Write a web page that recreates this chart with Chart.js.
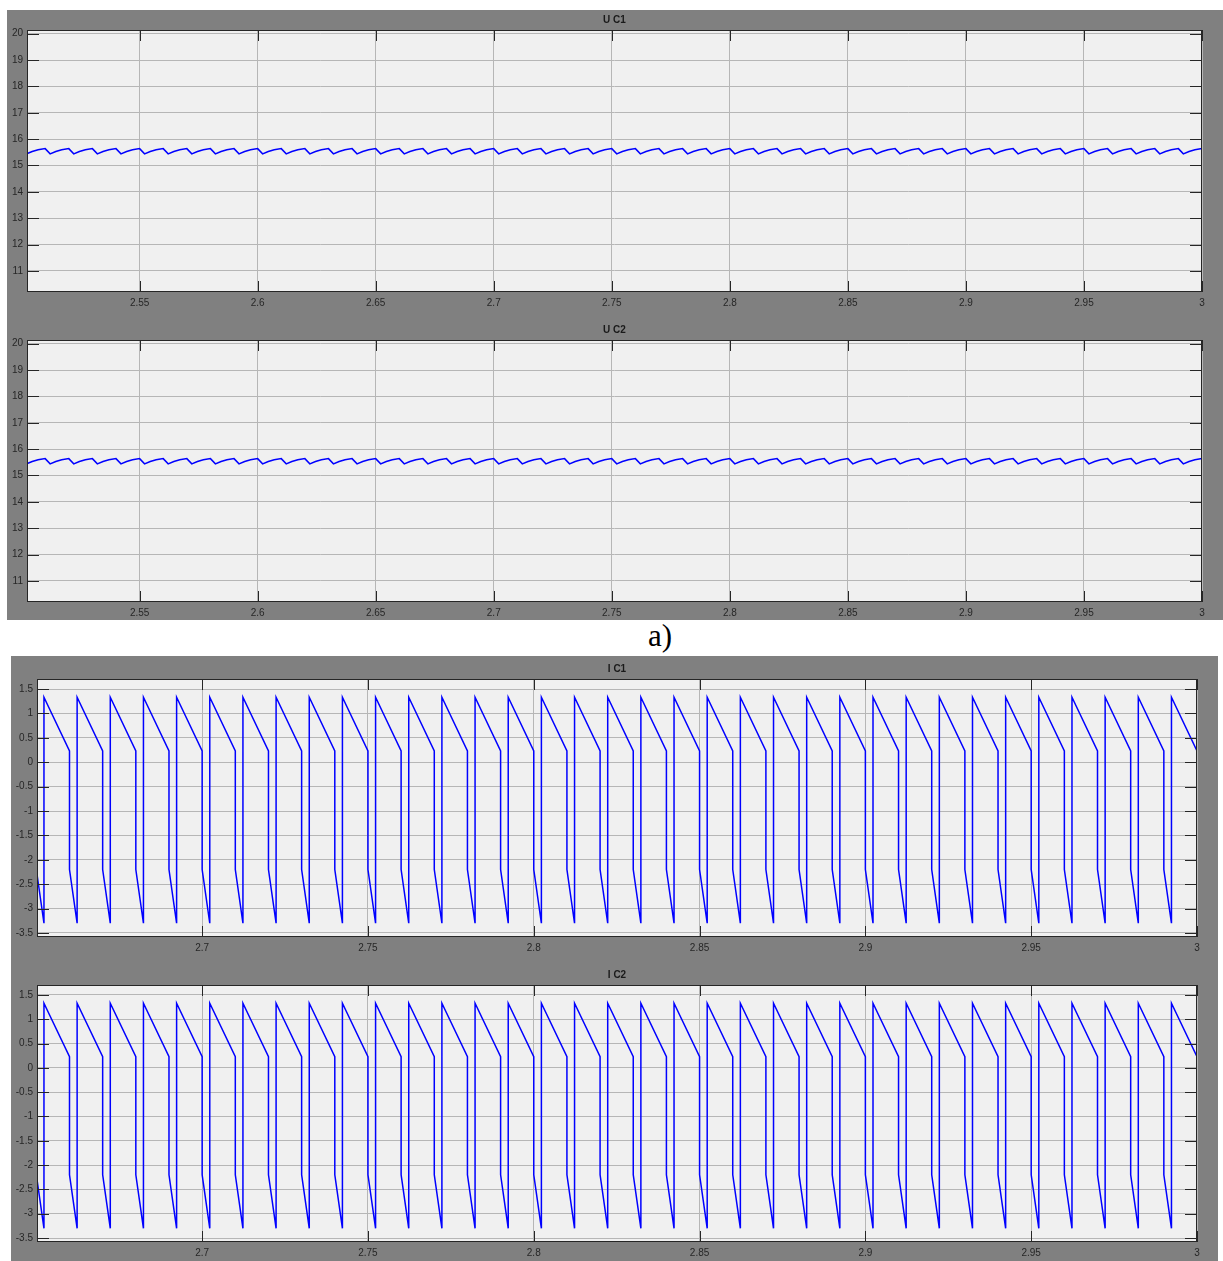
<!DOCTYPE html>
<html>
<head>
<meta charset="utf-8">
<title>U C / I C</title>
<script src="https://cdn.jsdelivr.net/npm/chart.js@4.4.0/dist/chart.umd.min.js"></script>
<style>
  html, body { margin: 0; padding: 0; background: #ffffff; }
  body { position: relative; width: 1223px; height: 1261px; overflow: hidden; }
  .fig { position: absolute; background: #808080; }
  canvas { position: absolute; }
  #capA {
    position: absolute; left: 600px; width: 120px; top: 620px;
    text-align: center; font-family: "Liberation Serif", "Times New Roman", serif;
    font-size: 31px; line-height: 31px; color: #000;
  }
</style>
</head>
<body>
<div class="fig" style="left:7px;top:10px;width:1216px;height:610px;"></div>
<div class="fig" style="left:11px;top:656px;width:1207px;height:605px;"></div>
<div id="capA">a)</div>

<script>
// ---- capacitor voltages (V) over 2.5 ... 3 s ----
const ucTime = [
  2.500, 2.5021, 2.5045, 2.507,   2.510, 2.5121, 2.5145, 2.517,
  2.520, 2.5221, 2.5245, 2.527,   2.530, 2.5321, 2.5345, 2.537,
  2.540, 2.5421, 2.5445, 2.547,   2.550, 2.5521, 2.5545, 2.557,
  2.560, 2.5621, 2.5645, 2.567,   2.570, 2.5721, 2.5745, 2.577,
  2.580, 2.5821, 2.5845, 2.587,   2.590, 2.5921, 2.5945, 2.597,
  2.600, 2.6021, 2.6045, 2.607,   2.610, 2.6121, 2.6145, 2.617,
  2.620, 2.6221, 2.6245, 2.627,   2.630, 2.6321, 2.6345, 2.637,
  2.640, 2.6421, 2.6445, 2.647,   2.650, 2.6521, 2.6545, 2.657,
  2.660, 2.6621, 2.6645, 2.667,   2.670, 2.6721, 2.6745, 2.677,
  2.680, 2.6821, 2.6845, 2.687,   2.690, 2.6921, 2.6945, 2.697,
  2.700, 2.7021, 2.7045, 2.707,   2.710, 2.7121, 2.7145, 2.717,
  2.720, 2.7221, 2.7245, 2.727,   2.730, 2.7321, 2.7345, 2.737,
  2.740, 2.7421, 2.7445, 2.747,   2.750, 2.7521, 2.7545, 2.757,
  2.760, 2.7621, 2.7645, 2.767,   2.770, 2.7721, 2.7745, 2.777,
  2.780, 2.7821, 2.7845, 2.787,   2.790, 2.7921, 2.7945, 2.797,
  2.800, 2.8021, 2.8045, 2.807,   2.810, 2.8121, 2.8145, 2.817,
  2.820, 2.8221, 2.8245, 2.827,   2.830, 2.8321, 2.8345, 2.837,
  2.840, 2.8421, 2.8445, 2.847,   2.850, 2.8521, 2.8545, 2.857,
  2.860, 2.8621, 2.8645, 2.867,   2.870, 2.8721, 2.8745, 2.877,
  2.880, 2.8821, 2.8845, 2.887,   2.890, 2.8921, 2.8945, 2.897,
  2.900, 2.9021, 2.9045, 2.907,   2.910, 2.9121, 2.9145, 2.917,
  2.920, 2.9221, 2.9245, 2.927,   2.930, 2.9321, 2.9345, 2.937,
  2.940, 2.9421, 2.9445, 2.947,   2.950, 2.9521, 2.9545, 2.957,
  2.960, 2.9621, 2.9645, 2.967,   2.970, 2.9721, 2.9745, 2.977,
  2.980, 2.9821, 2.9845, 2.987,   2.990, 2.9921, 2.9945, 2.997,
  3.000
];
const uC1 = [
  15.64, 15.44, 15.53, 15.60,  15.64, 15.44, 15.53, 15.60,  15.64, 15.44, 15.53, 15.60,  15.64, 15.44, 15.53, 15.60,  15.64, 15.44, 15.53, 15.60,
  15.64, 15.44, 15.53, 15.60,  15.64, 15.44, 15.53, 15.60,  15.64, 15.44, 15.53, 15.60,  15.64, 15.44, 15.53, 15.60,  15.64, 15.44, 15.53, 15.60,
  15.64, 15.44, 15.53, 15.60,  15.64, 15.44, 15.53, 15.60,  15.64, 15.44, 15.53, 15.60,  15.64, 15.44, 15.53, 15.60,  15.64, 15.44, 15.53, 15.60,
  15.64, 15.44, 15.53, 15.60,  15.64, 15.44, 15.53, 15.60,  15.64, 15.44, 15.53, 15.60,  15.64, 15.44, 15.53, 15.60,  15.64, 15.44, 15.53, 15.60,
  15.64, 15.44, 15.53, 15.60,  15.64, 15.44, 15.53, 15.60,  15.64, 15.44, 15.53, 15.60,  15.64, 15.44, 15.53, 15.60,  15.64, 15.44, 15.53, 15.60,
  15.64, 15.44, 15.53, 15.60,  15.64, 15.44, 15.53, 15.60,  15.64, 15.44, 15.53, 15.60,  15.64, 15.44, 15.53, 15.60,  15.64, 15.44, 15.53, 15.60,
  15.64, 15.44, 15.53, 15.60,  15.64, 15.44, 15.53, 15.60,  15.64, 15.44, 15.53, 15.60,  15.64, 15.44, 15.53, 15.60,  15.64, 15.44, 15.53, 15.60,
  15.64, 15.44, 15.53, 15.60,  15.64, 15.44, 15.53, 15.60,  15.64, 15.44, 15.53, 15.60,  15.64, 15.44, 15.53, 15.60,  15.64, 15.44, 15.53, 15.60,
  15.64, 15.44, 15.53, 15.60,  15.64, 15.44, 15.53, 15.60,  15.64, 15.44, 15.53, 15.60,  15.64, 15.44, 15.53, 15.60,  15.64, 15.44, 15.53, 15.60,
  15.64, 15.44, 15.53, 15.60,  15.64, 15.44, 15.53, 15.60,  15.64, 15.44, 15.53, 15.60,  15.64, 15.44, 15.53, 15.60,  15.64, 15.44, 15.53, 15.60,
  15.64
];
// both capacitors sit at the same voltage
const uC2 = uC1;

// ---- capacitor currents (A) over 2.65 ... 3 s ----
const icTime = [
  2.65, 2.65, 2.6523, 2.6523,  2.66, 2.66, 2.6623, 2.6623,  2.67, 2.67, 2.6723, 2.6723,
  2.68, 2.68, 2.6823, 2.6823,  2.69, 2.69, 2.6923, 2.6923,  2.70, 2.70, 2.7023, 2.7023,
  2.71, 2.71, 2.7123, 2.7123,  2.72, 2.72, 2.7223, 2.7223,  2.73, 2.73, 2.7323, 2.7323,
  2.74, 2.74, 2.7423, 2.7423,  2.75, 2.75, 2.7523, 2.7523,  2.76, 2.76, 2.7623, 2.7623,
  2.77, 2.77, 2.7723, 2.7723,  2.78, 2.78, 2.7823, 2.7823,  2.79, 2.79, 2.7923, 2.7923,
  2.80, 2.80, 2.8023, 2.8023,  2.81, 2.81, 2.8123, 2.8123,  2.82, 2.82, 2.8223, 2.8223,
  2.83, 2.83, 2.8323, 2.8323,  2.84, 2.84, 2.8423, 2.8423,  2.85, 2.85, 2.8523, 2.8523,
  2.86, 2.86, 2.8623, 2.8623,  2.87, 2.87, 2.8723, 2.8723,  2.88, 2.88, 2.8823, 2.8823,
  2.89, 2.89, 2.8923, 2.8923,  2.90, 2.90, 2.9023, 2.9023,  2.91, 2.91, 2.9123, 2.9123,
  2.92, 2.92, 2.9223, 2.9223,  2.93, 2.93, 2.9323, 2.9323,  2.94, 2.94, 2.9423, 2.9423,
  2.95, 2.95, 2.9523, 2.9523,  2.96, 2.96, 2.9623, 2.9623,  2.97, 2.97, 2.9723, 2.9723,
  2.98, 2.98, 2.9823, 2.9823,  2.99, 2.99, 2.9923, 2.9923,
  3.00
];
const iC1 = [
  0.23, -2.2, -3.3, 1.33,  0.23, -2.2, -3.3, 1.33,  0.23, -2.2, -3.3, 1.33,
  0.23, -2.2, -3.3, 1.33,  0.23, -2.2, -3.3, 1.33,  0.23, -2.2, -3.3, 1.33,
  0.23, -2.2, -3.3, 1.33,  0.23, -2.2, -3.3, 1.33,  0.23, -2.2, -3.3, 1.33,
  0.23, -2.2, -3.3, 1.33,  0.23, -2.2, -3.3, 1.33,  0.23, -2.2, -3.3, 1.33,
  0.23, -2.2, -3.3, 1.33,  0.23, -2.2, -3.3, 1.33,  0.23, -2.2, -3.3, 1.33,
  0.23, -2.2, -3.3, 1.33,  0.23, -2.2, -3.3, 1.33,  0.23, -2.2, -3.3, 1.33,
  0.23, -2.2, -3.3, 1.33,  0.23, -2.2, -3.3, 1.33,  0.23, -2.2, -3.3, 1.33,
  0.23, -2.2, -3.3, 1.33,  0.23, -2.2, -3.3, 1.33,  0.23, -2.2, -3.3, 1.33,
  0.23, -2.2, -3.3, 1.33,  0.23, -2.2, -3.3, 1.33,  0.23, -2.2, -3.3, 1.33,
  0.23, -2.2, -3.3, 1.33,  0.23, -2.2, -3.3, 1.33,  0.23, -2.2, -3.3, 1.33,
  0.23, -2.2, -3.3, 1.33,  0.23, -2.2, -3.3, 1.33,  0.23, -2.2, -3.3, 1.33,
  0.23, -2.2, -3.3, 1.33,  0.23, -2.2, -3.3, 1.33,
  0.23
];
// both capacitors carry the same current
const iC2 = iC1;

// ---- axis ticks ----
const uXTicks  = [2.55, 2.6, 2.65, 2.7, 2.75, 2.8, 2.85, 2.9, 2.95, 3];
const uXLabels = ['2.55', '2.6', '2.65', '2.7', '2.75', '2.8', '2.85', '2.9', '2.95', '3'];
const uYTicks  = [11, 12, 13, 14, 15, 16, 17, 18, 19, 20];
const uYLabels = ['11', '12', '13', '14', '15', '16', '17', '18', '19', '20'];
const uXRange  = [2.5023, 3];
const uYRange  = [10.2, 20.14];

const iXTicks  = [2.7, 2.75, 2.8, 2.85, 2.9, 2.95, 3];
const iXLabels = ['2.7', '2.75', '2.8', '2.85', '2.9', '2.95', '3'];
const iYTicks  = [-3.5, -3, -2.5, -2, -1.5, -1, -0.5, 0, 0.5, 1, 1.5];
const iYLabels = ['-3.5', '-3', '-2.5', '-2', '-1.5', '-1', '-0.5', '0', '0.5', '1', '1.5'];
const iXRange  = [2.6502, 3];
const iYRange  = [-3.582, 1.705];

// ---- styling ----
const FONT = '"Liberation Sans", Arial, Helvetica, sans-serif';
const INK = '#262626';
const GRID = '#b6b6b6';
const AXES_BG = '#f0f0f0';
const TRACE = '#0000ff';

// axes box, inward tick marks and the title above each axes
const scopeFrame = {
  id: 'scopeFrame',
  beforeDraw(chart) {
    const { ctx, chartArea: a } = chart;
    ctx.save();
    ctx.fillStyle = AXES_BG;
    ctx.fillRect(a.left, a.top, a.right - a.left, a.bottom - a.top);
    ctx.restore();
  },
  afterDraw(chart, args, opts) {
    const { ctx, chartArea: a } = chart;
    const sx = chart.scales.x, sy = chart.scales.y;
    ctx.save();
    ctx.strokeStyle = INK;
    ctx.lineWidth = 1;
    ctx.beginPath();
    sx.ticks.forEach(t => {
      const px = Math.round(sx.getPixelForValue(t.value)) + 0.5;
      ctx.moveTo(px, a.bottom); ctx.lineTo(px, a.bottom - 11);
      ctx.moveTo(px, a.top);    ctx.lineTo(px, a.top + 11);
    });
    sy.ticks.forEach(t => {
      const py = Math.round(sy.getPixelForValue(t.value)) + 0.5;
      ctx.moveTo(a.left, py);  ctx.lineTo(a.left + 12, py);
      ctx.moveTo(a.right, py); ctx.lineTo(a.right - 12, py);
    });
    ctx.stroke();
    ctx.strokeRect(a.left + 0.5, a.top + 0.5, a.right - a.left - 1, a.bottom - a.top - 1);
    ctx.fillStyle = '#1a1a1a';
    ctx.font = 'bold 10px ' + FONT;
    ctx.textAlign = 'center';
    ctx.textBaseline = 'middle';
    ctx.fillText(opts.title, (a.left + a.right) / 2, a.top - 10);
    ctx.restore();
  }
};

function makePanel(p) {
  const cv = document.createElement('canvas');
  cv.width = p.box[2];
  cv.height = p.box[3];
  cv.style.left = p.box[0] + 'px';
  cv.style.top = p.box[1] + 'px';
  cv.style.width = p.box[2] + 'px';
  cv.style.height = p.box[3] + 'px';
  document.body.appendChild(cv);

  const tickFont = { family: FONT, size: 10 };
  new Chart(cv, {
    type: 'line',
    data: {
      datasets: [{
        data: p.t.map((t, i) => ({ x: t, y: p.v[i] })),
        borderColor: TRACE,
        borderWidth: 1.5,
        pointRadius: 0,
        tension: 0,
        fill: false
      }]
    },
    options: {
      responsive: false,
      animation: false,
      devicePixelRatio: 1,
      events: [],
      layout: {
        padding: {
          left: p.plot[0] - p.box[0] - p.yw,
          top: p.plot[1] - p.box[1],
          right: p.box[0] + p.box[2] - p.plot[2],
          bottom: p.box[1] + p.box[3] - p.plot[3] - p.xh
        }
      },
      plugins: {
        legend: { display: false },
        tooltip: { enabled: false },
        title: { display: false },
        scopeFrame: { title: p.title }
      },
      scales: {
        x: {
          type: 'linear',
          min: p.xr[0], max: p.xr[1],
          afterBuildTicks: s => { s.ticks = p.xt.map(v => ({ value: v })); },
          afterFit: s => { s.height = p.xh; },
          grid: { color: GRID, lineWidth: 1, drawTicks: false },
          border: { display: false },
          ticks: {
            callback: (v, i) => p.xl[i],
            autoSkip: false, maxRotation: 0, minRotation: 0,
            padding: 5, color: INK, font: tickFont
          }
        },
        y: {
          type: 'linear',
          min: p.yr[0], max: p.yr[1],
          afterBuildTicks: s => { s.ticks = p.yt.map(v => ({ value: v })); },
          afterFit: s => { s.width = p.yw; },
          grid: { color: GRID, lineWidth: 1, drawTicks: false },
          border: { display: false },
          ticks: {
            callback: (v, i) => p.yl[i],
            autoSkip: false,
            padding: 4, color: INK, font: tickFont
          }
        }
      }
    },
    plugins: [scopeFrame]
  });
}

const panels = [
  { title: 'U C1', t: ucTime, v: uC1, xt: uXTicks, xl: uXLabels, yt: uYTicks, yl: uYLabels, xr: uXRange, yr: uYRange,
    box: [7, 10, 1216, 300], plot: [27, 30, 1202, 292], yw: 20, xh: 18 },
  { title: 'U C2', t: ucTime, v: uC2, xt: uXTicks, xl: uXLabels, yt: uYTicks, yl: uYLabels, xr: uXRange, yr: uYRange,
    box: [7, 310, 1216, 310], plot: [27, 340, 1202, 602], yw: 20, xh: 18 },
  { title: 'I C1', t: icTime, v: iC1, xt: iXTicks, xl: iXLabels, yt: iYTicks, yl: iYLabels, xr: iXRange, yr: iYRange,
    box: [11, 656, 1207, 300], plot: [37, 679, 1197, 937], yw: 24, xh: 18 },
  { title: 'I C2', t: icTime, v: iC2, xt: iXTicks, xl: iXLabels, yt: iYTicks, yl: iYLabels, xr: iXRange, yr: iYRange,
    box: [11, 956, 1207, 305], plot: [37, 985, 1197, 1242], yw: 24, xh: 18 }
];
panels.forEach(makePanel);
</script>
</body>
</html>
